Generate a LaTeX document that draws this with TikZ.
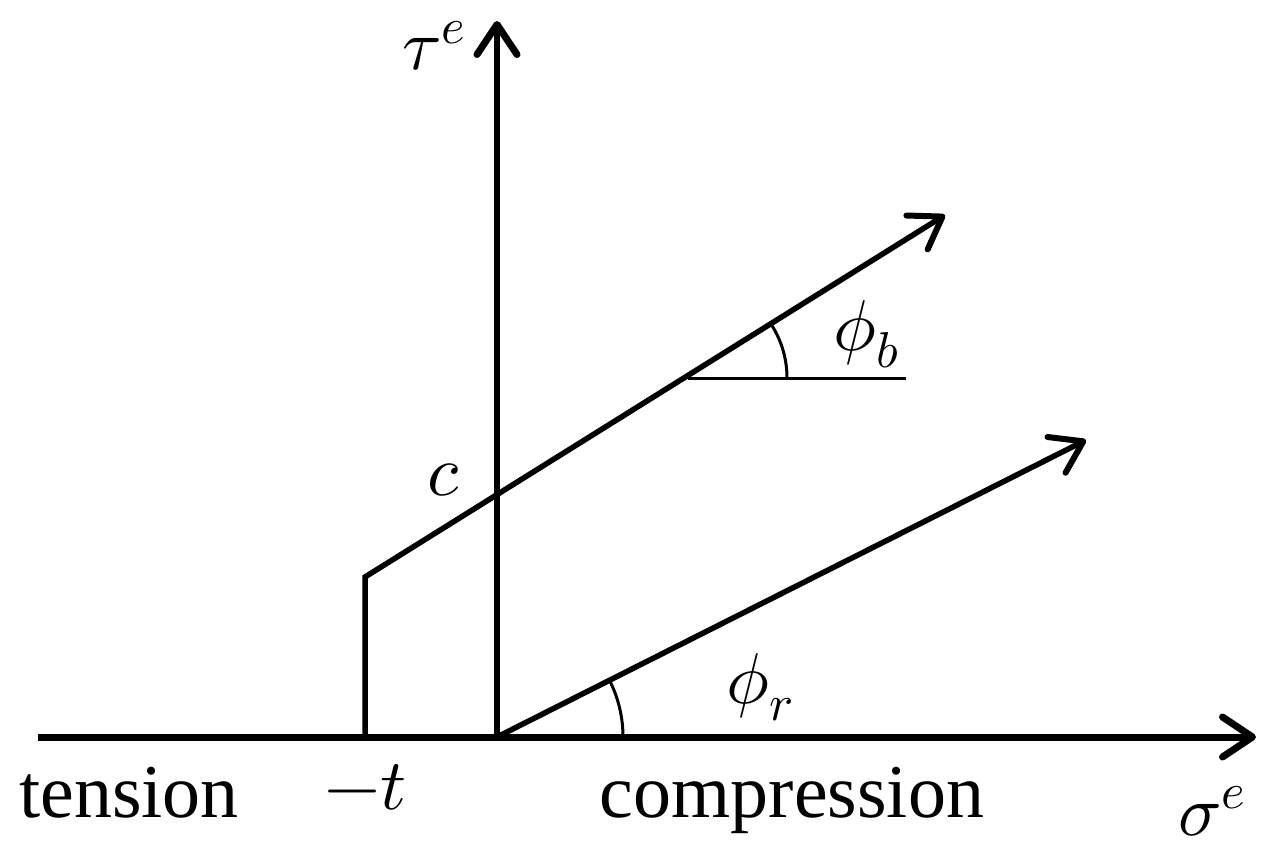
\documentclass[tikz,border=0pt]{standalone}
\usepackage{fontspec}
\usepackage{unicode-math}
\setmainfont{Liberation Serif}
\setmathfont{Latin Modern Math}
\usetikzlibrary{arrows.meta}
\tikzset{
  axis/.style={line width=7pt, -{Straight Barb[length=30pt,width=40pt,line width=7pt,round]}},
  envelope/.style={line width=5.5pt, line join=miter, -{Straight Barb[length=30pt,width=40pt,line width=6pt,round]}},
  thin/.style={line width=3pt},
  lbl/.style={inner sep=0pt, anchor=base, font=\fontsize{76}{80}\selectfont},
  mlbl/.style={inner sep=0pt, anchor=base, font=\fontsize{72}{76}\selectfont},
}
\begin{document}
\begin{tikzpicture}[x=1pt,y=-1pt]
\useasboundingbox (0,0) rectangle (1273,856);
% points
\coordinate (hstart) at (38,737);
\coordinate (hend) at (1256,737);
\coordinate (O) at (497,737);
\coordinate (vtop) at (497,21);
\coordinate (tb) at (365,737);
\coordinate (tk) at (365,577);
\coordinate (ptop) at (945,215);
\coordinate (rtop) at (1086,440);
\coordinate (bref) at (688,378);
\coordinate (bend) at (906,378);
% axes
\draw[axis] (hstart) -- (hend);
\draw[axis, line width=6pt] (O) -- (vtop);
% envelopes
\draw[envelope] (tb) -- (tk) -- (ptop);
\draw[envelope] (O) -- (rtop);
% angle markers
\draw[thin] (bref) -- (bend);
\draw[thin] ([xshift=99pt]bref) arc[start angle=0, end angle=32, radius=99pt];
\draw[thin] ([xshift=126pt]O) arc[start angle=0, end angle=26.8, radius=126pt];
% labels
\node[lbl] (ten) at (129,817) {tension};
\node[mlbl] (mt) at (365,809) {$-t$};
\node[lbl] (comp) at (792,817) {compression};
\node[mlbl] (sig) at (1212,835) {$\sigma^e$};
\node[mlbl] (tau) at (434,70) {$\tau^e$};
\node[mlbl] (cc) at (444,495) {$c$};
\node[mlbl] (phib) at (866,350) {$\phi_b$};
\node[mlbl] (phir) at (760,703) {$\phi_r$};
\end{tikzpicture}
\end{document}
